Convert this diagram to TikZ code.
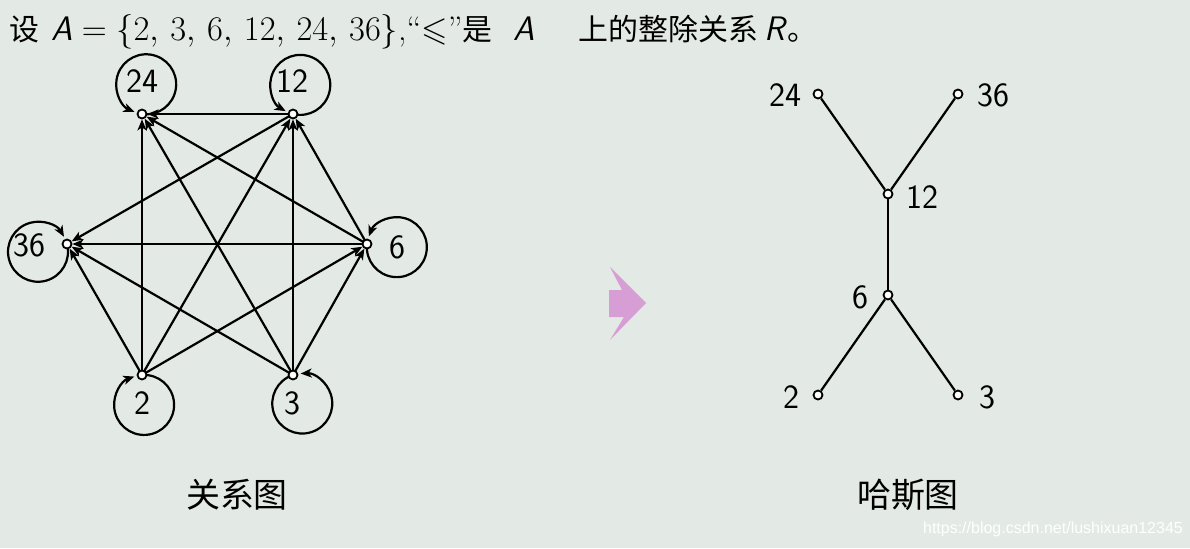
\documentclass[tikz,border=0pt]{standalone}
\usepackage{amsmath,amssymb}
\usepackage{fontspec}
\newfontfamily\cjk[Scale=0.88]{Noto Sans CJK SC}
\newfontfamily\webfont{Liberation Sans}
\usetikzlibrary{arrows.meta}
\definecolor{slidebg}{RGB}{227,233,229}
\definecolor{cursorpink}{RGB}{214,158,212}

\begin{document}
\begin{tikzpicture}[x = 0.5pt, y = 0.5pt, line width = 1.1pt,
  vertex/.style = {circle, draw, fill = white, line width = 0.9pt, inner sep = 0pt, minimum size = 4.5pt},
  num/.style = {font = \sffamily\fontsize{17}{17}\selectfont, inner sep = 0pt},
  edge/.style = {-{Stealth[length = 5.5pt, width = 4.5pt, inset = 1.5pt]}, shorten >= 2.7pt},
  selfloop/.style = {-{Stealth[length = 5.5pt, width = 4.5pt, inset = 1.5pt]}},
  caption/.style = {font = \cjk\fontsize{19.3}{19.3}\selectfont, inner sep = 0pt}]

  \fill[slidebg] (0, 0) rectangle (1190, 548);

  \node[anchor = base west, inner sep = 0pt, font = \fontsize{17}{20}\selectfont] (title) at (8, 508)
    {{\cjk 设}\hspace{6pt}$\textsf{\itshape A}=\{2,\,3,\,6,\,12,\,24,\,36\}$,``$\leqslant$''{\cjk 是}\hspace{10.5pt}\textsf{\itshape A}\hspace{22pt}{\cjk 上的整除关系}\hspace{3pt}\textsf{\itshape R}{\cjk 。}};

  \coordinate (r24) at (142, 434);
  \coordinate (r12) at (293, 434);
  \coordinate (r36) at (67, 304);
  \coordinate (r6) at (367, 304);
  \coordinate (r2) at (142, 173);
  \coordinate (r3) at (293, 173);

  \draw[edge] (r2) -- (r6);
  \draw[edge] (r2) -- (r12);
  \draw[edge] (r2) -- (r24);
  \draw[edge] (r2) -- (r36);
  \draw[edge] (r3) -- (r6);
  \draw[edge] (r3) -- (r12);
  \draw[edge] (r3) -- (r24);
  \draw[edge] (r3) -- (r36);
  \draw[edge] (r6) -- (r12);
  \draw[edge] (r6) -- (r24);
  \draw[edge] (r6) -- (r36);
  \draw[edge] (r12) -- (r24);
  \draw[edge] (r12) -- (r36);

  \draw[selfloop] (r24) arc[start angle = 262, delta angle = 345, radius = 15pt];
  \draw[selfloop] (r12) arc[start angle = 256, delta angle = 345, radius = 15pt];
  \draw[selfloop] (r36) arc[start angle = 15, delta angle = -345, radius = 15pt];
  \draw[selfloop] (r6) arc[start angle = 174, delta angle = 345, radius = 15pt];
  \draw[selfloop] (r2) arc[start angle = 94, delta angle = -345, radius = 15pt];
  \draw[selfloop] (r3) arc[start angle = 108, delta angle = 345, radius = 15pt];

  \node[vertex] (v24) at (r24) {};
  \node[vertex] (v12) at (r12) {};
  \node[vertex] (v36) at (r36) {};
  \node[vertex] (v6) at (r6) {};
  \node[vertex] (v2) at (r2) {};
  \node[vertex] (v3) at (r3) {};

  \node[num] (l24) at (142, 467) {24};
  \node[num] (l12) at (292, 467) {12};
  \node[num] (l36) at (29, 303) {36};
  \node[num] (l6) at (397, 301) {6};
  \node[num] (l2) at (142, 145) {2};
  \node[num] (l3) at (292, 145) {3};

  \node[caption] (relcap) at (237, 53) {关系图};

  \fill[cursorpink] (646, 245) -- (610, 281) -- (622, 258) -- (609, 258) -- (609, 231) -- (624, 231) -- (610, 208) -- cycle;

  \node[vertex] (h24) at (818, 454) {};
  \node[vertex] (h36) at (958, 454) {};
  \node[vertex] (h12) at (888, 354) {};
  \node[vertex] (h6) at (888, 253) {};
  \node[vertex] (h2) at (818, 153) {};
  \node[vertex] (h3) at (958, 153) {};

  \draw (h2) -- (h6);
  \draw (h3) -- (h6);
  \draw (h6) -- (h12);
  \draw (h12) -- (h24);
  \draw (h12) -- (h36);

  \node[num] (t24) at (785, 453) {24};
  \node[num] (t36) at (993, 453) {36};
  \node[num] (t12) at (922, 351) {12};
  \node[num] (t6) at (860, 251) {6};
  \node[num] (t2) at (791, 151) {2};
  \node[num] (t3) at (987, 151) {3};

  \node[caption] (hassecap) at (908, 53) {哈斯图};

  \node[anchor = base west, inner sep = 0pt, text = white, font = \webfont\fontsize{8}{8}\selectfont] (url) at (922, 15) {https://blog.csdn.net/lushixuan12345};

\end{tikzpicture}
\end{document}
